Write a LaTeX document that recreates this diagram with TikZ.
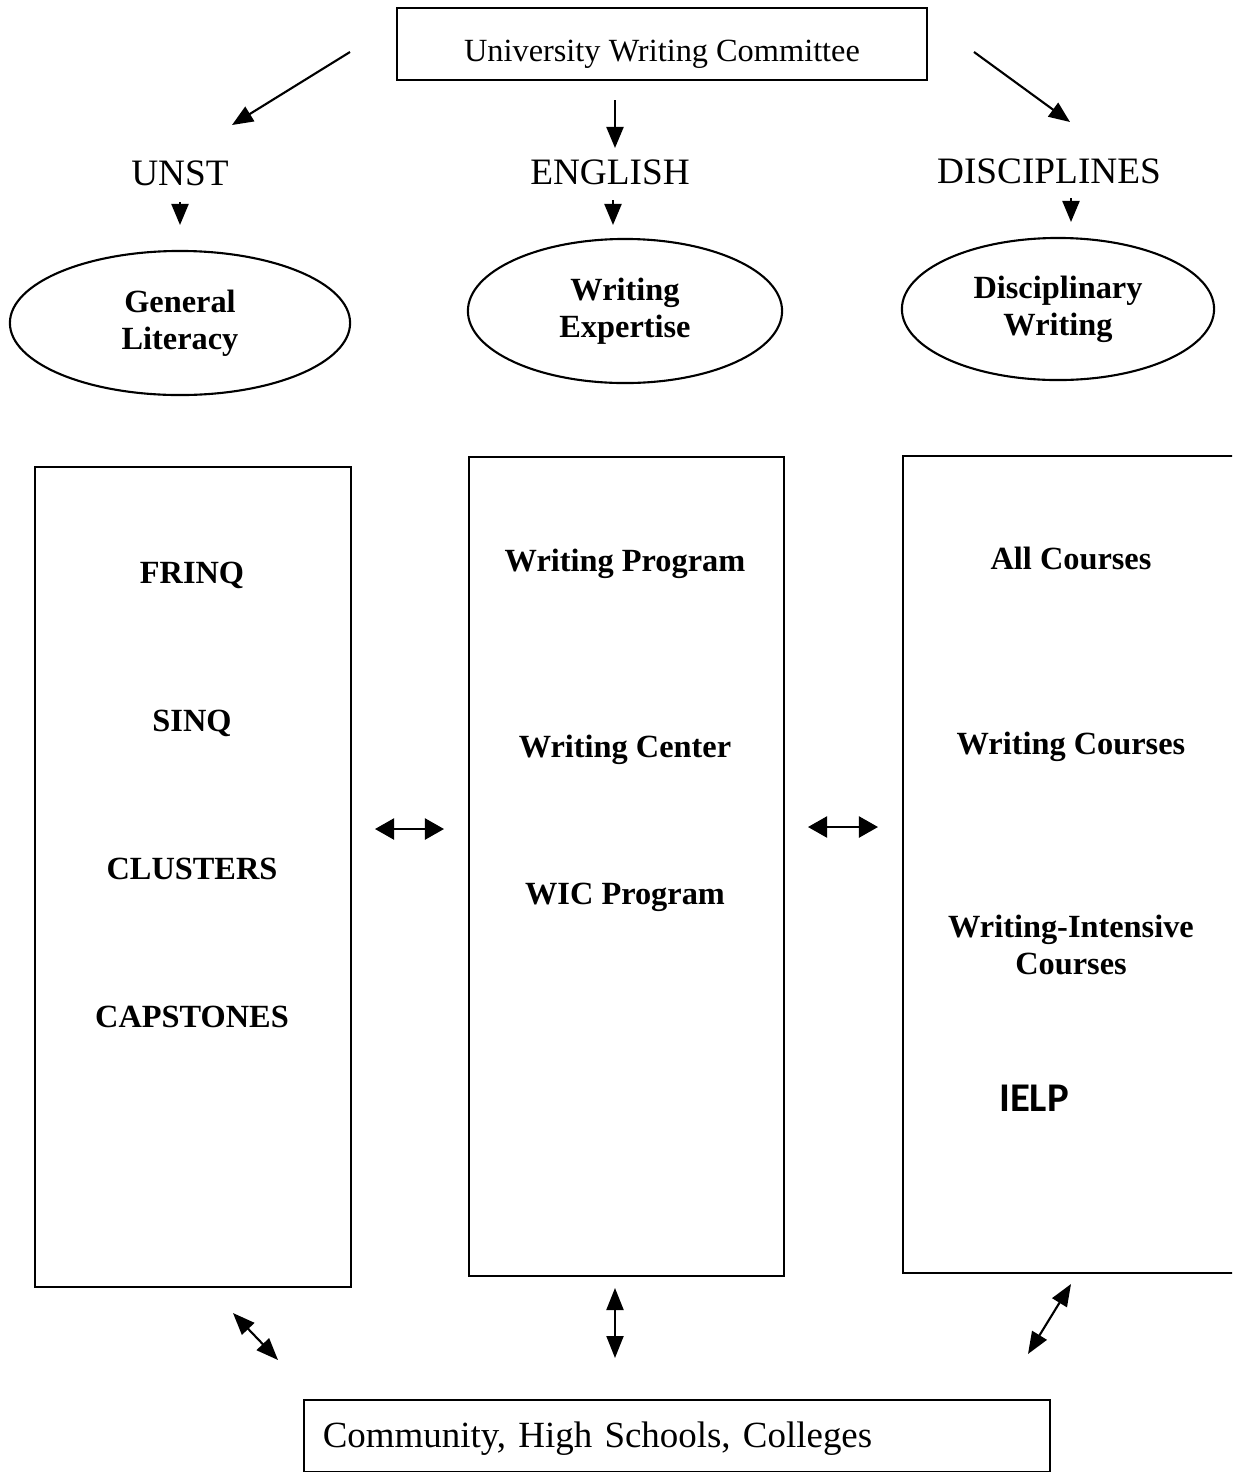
\documentclass[tikz,border=0pt]{standalone}
\usepackage{fontspec}
\setmainfont{Liberation Serif}
\newfontfamily\calfont{Carlito}
\usetikzlibrary{arrows.meta,positioning,shapes.geometric}
\tikzset{
  arr/.style={line width=0.6pt,-{Triangle[length=0.21cm,width=0.17cm]}},
  darr/.style={line width=0.6pt,{Triangle[length=0.22cm,width=0.17cm]}-{Triangle[length=0.22cm,width=0.17cm]}},
  wide/.style={line width=0.6pt,{Triangle[length=0.19cm,width=0.21cm]}-{Triangle[length=0.19cm,width=0.21cm]}},
  goal/.style={draw,ellipse,line width=0.6pt,inner sep=0pt,align=center,font=\bfseries\fontsize{9.2}{10.5}\selectfont},
  unitbox/.style={draw,line width=0.6pt,inner sep=0pt},
  item/.style={anchor=base,align=center,font=\bfseries\fontsize{9.2}{10.5}\selectfont},
  head/.style={font=\fontsize{10.6}{12}\selectfont},
}

\begin{document}
\begin{tikzpicture}[x=0.01cm,y=-0.01cm]
  \useasboundingbox (0,0) rectangle (1232,1472);
  \clip (0,0) rectangle (1232,1472);

  % top
  \node[unitbox,minimum width=5.3cm,minimum height=0.72cm,text height=0.41cm,text depth=0.07cm,font=\fontsize{9.2}{11}\selectfont] (com) at (662,44) {University Writing Committee};
  \node[head] (unst) at (180,173) {UNST};
  \node[head] (eng) at (610,172) {ENGLISH};
  \node[head] (disc) at (1049,171) {DISCIPLINES};

  \coordinate (c1) at (350,52);  \coordinate (c2) at (232,125);
  \coordinate (c3) at (615,100); \coordinate (c4) at (615,148);
  \coordinate (c5) at (974,52);  \coordinate (c6) at (1070,122);
  \draw[arr] (c1) -- (c2);
  \draw[arr] (c3) -- (c4);
  \draw[arr] (c5) -- (c6);

  % goals
  \node[goal,minimum width=3.4cm,minimum height=1.44cm] (lit) at (180,323) {General\\Literacy};
  \node[goal,minimum width=3.14cm,minimum height=1.44cm] (exp) at (625,311) {Writing\\Expertise};
  \node[goal,minimum width=3.12cm,minimum height=1.42cm] (dw) at (1058,309) {Disciplinary\\Writing};

  \foreach \x/\a/\b in {180/202/225,613/200/225,1071/198/222} {
    \coordinate (s) at (\x,\a); \coordinate (e) at (\x,\b);
    \draw[arr] (s) -- (e);
  }

  % columns
  \node[unitbox,minimum width=3.16cm,minimum height=8.2cm] (ubox) at (193,877) {};
  \node[unitbox,minimum width=3.15cm,minimum height=8.19cm] (ebox) at (626.5,866.5) {};
  \node[unitbox,minimum width=3.47cm,minimum height=8.17cm] (dbox) at (1076.5,864.5) {};

  \node[item] (frinq) at (192,583) {FRINQ};
  \node[item] (sinq) at (192,731) {SINQ};
  \node[item] (clus) at (192,879) {CLUSTERS};
  \node[item] (caps) at (192,1027) {CAPSTONES};

  \node[item] (wprog) at (625,571) {Writing Program};
  \node[item] (wcent) at (625,757) {Writing Center};
  \node[item] (wic) at (625,904) {WIC Program};

  \node[item] (allc) at (1071,569) {All Courses};
  \node[item] (wcour) at (1071,754) {Writing Courses};
  \node[align=center,font=\bfseries\fontsize{9.2}{10.5}\selectfont] (wint) at (1071,945) {Writing-Intensive\\Courses};
  \node[anchor=base,font=\calfont\bfseries\fontsize{11.6}{13}\selectfont] (ielp) at (1034,1111) {IELP};

  \coordinate (h1) at (375,829); \coordinate (h2) at (444,829);
  \coordinate (h3) at (808,827); \coordinate (h4) at (878,827);
  \draw[wide] (h1) -- (h2);
  \draw[wide] (h3) -- (h4);

  % bottom
  \node[unitbox,minimum width=7.46cm,minimum height=0.72cm,text width=7.08cm,inner xsep=0.19cm,text height=0.3cm,text depth=0.08cm,align=left,font=\fontsize{10.5}{12}\selectfont] (comm) at (677,1436) {Community, High Schools, Colleges};

  \coordinate (b1) at (233,1313); \coordinate (b2) at (278,1360);
  \coordinate (b3) at (615,1288); \coordinate (b4) at (615,1358);
  \coordinate (b5) at (1071,1284); \coordinate (b6) at (1028,1354);
  \draw[darr] (b1) -- (b2);
  \draw[darr] (b3) -- (b4);
  \draw[darr] (b5) -- (b6);
\end{tikzpicture}
\end{document}
